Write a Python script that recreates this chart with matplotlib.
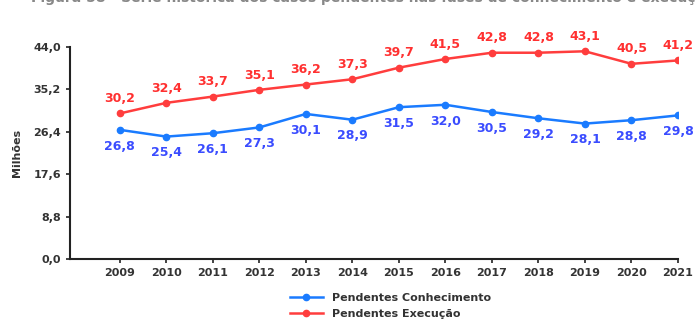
import matplotlib
matplotlib.use("Agg")
import matplotlib.pyplot as plt

# ==================================================
# DATA
# ==================================================
years = [2009, 2010, 2011, 2012, 2013, 2014, 2015, 2016, 2017, 2018, 2019, 2020, 2021]
conhecimento = [26.8, 25.4, 26.1, 27.3, 30.1, 28.9, 31.5, 32.0, 30.5, 29.2, 28.1, 28.8, 29.8]
execucao = [30.2, 32.4, 33.7, 35.1, 36.2, 37.3, 39.7, 41.5, 42.8, 42.8, 43.1, 40.5, 41.2]
y_ticks = [0.0, 8.8, 17.6, 26.4, 35.2, 44.0]

BLUE = "#1a7bff"
RED = "#ff3d3d"
BLUE_TXT = "#3a4cff"
RED_TXT = "#ff3030"
GRAY = "#333333"

plt.rcParams['font.family'] = ['Liberation Sans Narrow', 'DejaVu Sans']

fig = plt.figure(figsize=(6.96, 3.26), dpi=100)
ax = fig.add_axes([0.1006, 0.2055, 0.8735, 0.6505])

ax.plot(years, conhecimento, color=BLUE, lw=1.8, marker='o', ms=4.5,
        label='Pendentes Conhecimento')
ax.plot(years, execucao, color=RED, lw=1.8, marker='o', ms=4.5,
        label='Pendentes Execução')

for x, v in zip(years, conhecimento):
    ax.annotate(f"{v:.1f}".replace('.', ','), (x, v), xytext=(0, -7),
                textcoords='offset points', ha='center', va='top',
                color=BLUE_TXT, fontsize=9, fontweight='bold')
for x, v in zip(years, execucao):
    ax.annotate(f"{v:.1f}".replace('.', ','), (x, v), xytext=(0, 6),
                textcoords='offset points', ha='center', va='bottom',
                color=RED_TXT, fontsize=9, fontweight='bold')

ax.set_xlim(2009 - 1.07, 2021)
ax.set_ylim(0, 44)
ax.set_xticks(years)
ax.set_yticks(y_ticks)
ax.set_yticklabels([f"{t:.1f}".replace('.', ',') for t in y_ticks])
ax.tick_params(axis='both', colors='#222222', labelcolor=GRAY, labelsize=8,
               length=3, width=1.2, direction='out')
for lab in ax.get_xticklabels() + ax.get_yticklabels():
    lab.set_fontweight('bold')

for s in ['top', 'right']:
    ax.spines[s].set_visible(False)
for s in ['left', 'bottom']:
    ax.spines[s].set_linewidth(1.5)
    ax.spines[s].set_color('#222222')

ax.set_ylabel('Milhões', color=GRAY, fontsize=8, fontweight='bold', labelpad=8)

# cropped title at the top (mostly cut off in the source image)
fig.text(0.045, 1.008, 'Figura 58 - Série histórica dos casos pendentes nas fases de conhecimento e execução',
         color='#888888', fontsize=10, fontweight='bold', va='center', ha='left')

leg = fig.legend(loc='upper left', bbox_to_anchor=(0.41, 0.115), frameon=False,
                 fontsize=8, handlelength=3, labelspacing=0.5, borderaxespad=0)
for t in leg.get_texts():
    t.set_color(GRAY)
    t.set_fontweight('bold')

plt.savefig('out.png', dpi=100)
